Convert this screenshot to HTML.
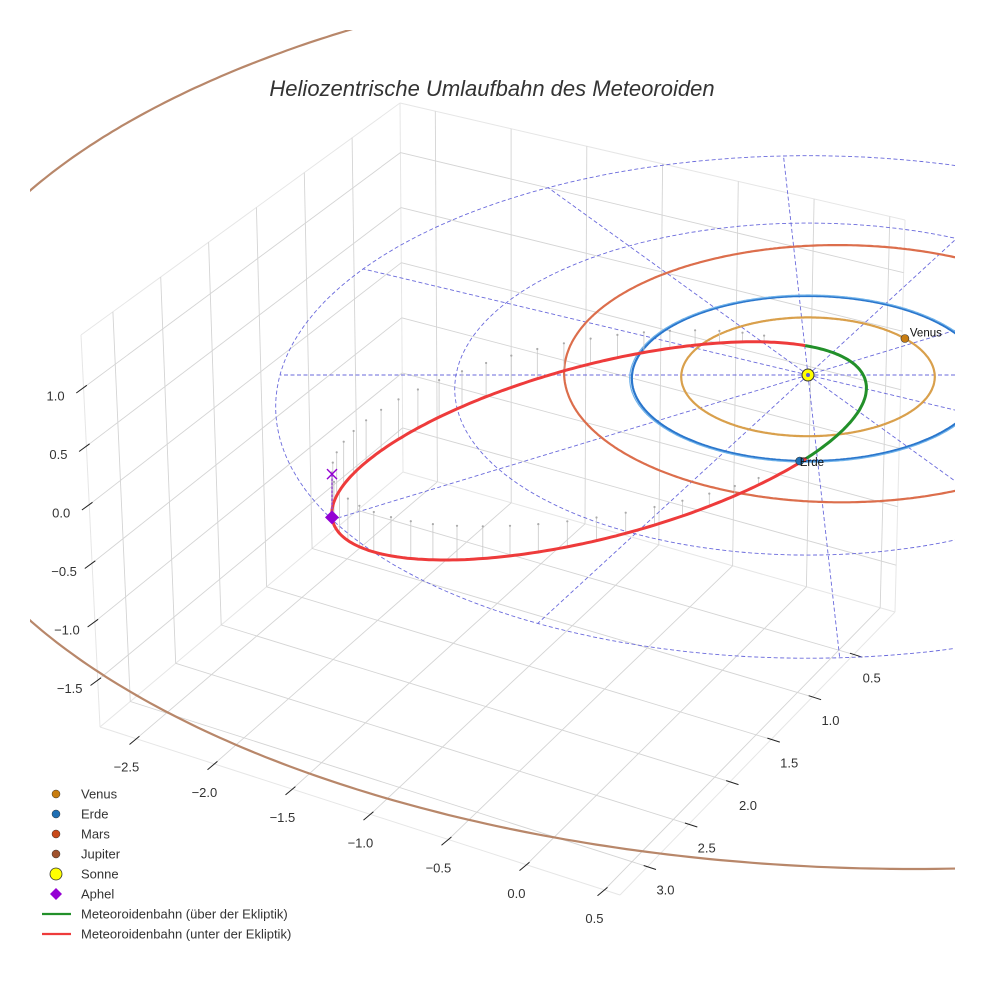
<!DOCTYPE html>
<html><head><meta charset="utf-8">
<style>
html,body{margin:0;padding:0;background:#fff;}
svg{display:block;font-family:"Liberation Sans",sans-serif;}
</style></head>
<body>
<svg id="chart" width="984" height="984" viewBox="0 0 984 984" xmlns="http://www.w3.org/2000/svg">
<defs><clipPath id="clip"><rect x="30" y="30" width="925" height="954"/></clipPath></defs>
<text x="492" y="96" text-anchor="middle" font-size="22" font-style="italic" fill="#333">Heliozentrische Umlaufbahn des Meteoroiden</text>
<g id="grid"></g>
<g id="ticks"></g>
<g id="eclip" clip-path="url(#clip)"></g>
<g id="orbits" clip-path="url(#clip)"></g>
<g id="meteor"></g>
<g id="marks"></g>
<g id="legend"></g>
</svg>
<script>
// ---- data ----
const xTicks = [-2.5, -2.0, -1.5, -1.0, -0.5, 0.0, 0.5];
const yTicks = [0.5, 1.0, 1.5, 2.0, 2.5, 3.0];
const zTicks = [-1.5, -1.0, -0.5, 0.0, 0.5, 1.0];
const planetNames = ["Venus", "Erde", "Mars", "Jupiter"];
const planetRadii = [0.72, 1.0, 1.57, 5.61];
const planetCenterU = [0, 0, 0.18, 0.48];
const planetCenterV = [0, 0, -0.12, -0.83];
const planetAngles = [38.8, -92.6, null, null];
const ringRadii = [2, 3];
const radialAngles = [0, 33, 63, 93, 123, 153, 180, 213, 243, 273, 303, 333];
const meteorCenter = [-1.10, 0.82];
const meteorAxisA = [1.42, -0.79];
const meteorAxisB = [0.167, 0.943];
const meteorAboveRange = [-34, 47];
const aphelDepth = 0.37;

// ---- projection (ecliptic plane) ----
const CX=808, CY=375, SU=176, SV=82.4, P=0.0424, SZ=117;
function proj(u,v,z){const D=1-P*v;return [CX+SU*u/D, CY+SV*v/D - SZ*(z||0)];}
// ---- box (screen) ----
const FB=[403,472],FR=[895,612],FL=[100,727],FF=[620,895],TB=[400,103],TR=[905,220],TL=[81,335];
const XMIN=-2.733,XR=3.333,YR=3.333,ZTOP=1.45,ZR=3.35;
function L(a,b,t){return [a[0]+(b[0]-a[0])*t,a[1]+(b[1]-a[1])*t];}
function floorP(s,t){return L(L(FB,FR,s),L(FL,FF,s),t);}
function backP(s,f){return L(L(TB,TR,s),L(FB,FR,s),f);}
function leftP(t,f){return L(L(TB,TL,t),L(FB,FL,t),f);}
const sx=x=>(x-XMIN)/XR, ty=y=>y/YR, fz=z=>(ZTOP-z)/ZR;
const NS="http://www.w3.org/2000/svg";
function el(tag,attrs,parent){const e=document.createElementNS(NS,tag);for(const k in attrs)e.setAttribute(k,attrs[k]);parent.appendChild(e);return e;}
function line(g,a,b,st,w){return el("line",{x1:a[0].toFixed(1),y1:a[1].toFixed(1),x2:b[0].toFixed(1),y2:b[1].toFixed(1),stroke:st,"stroke-width":w},g);}
function pathD(pts){return pts.map((p,i)=>(i?"L":"M")+p[0].toFixed(1)+","+p[1].toFixed(1)).join("");}

const grid=document.getElementById("grid");
const GC="#d4d4d4";
[[TB,TR],[TB,TL],[TB,FB],[FB,FR],[FB,FL],[TL,FL],[TR,FR],[FL,FF],[FR,FF]].forEach(e=>{const l=line(grid,e[0],e[1],"#e6e6e6",1);

});
xTicks.forEach(x=>{const s=sx(x);
 let l=line(grid,backP(s,0),backP(s,1),GC,0.9);
 
 
 l=line(grid,floorP(s,0),floorP(s,1),GC,0.9);
 
 });
yTicks.forEach(y=>{const t=ty(y);
 let l=line(grid,leftP(t,0),leftP(t,1),GC,0.9);
 
 
 l=line(grid,floorP(0,t),floorP(1,t),GC,0.9);
 
 });
zTicks.forEach(z=>{const f=fz(z);
 let l=line(grid,backP(0,f),backP(1,f),GC,0.9);
 
 
 l=line(grid,leftP(0,f),leftP(1,f),GC,0.9);
 
 });

const tk=document.getElementById("ticks");
function unit(a,b){const dx=b[0]-a[0],dy=b[1]-a[1],n=Math.hypot(dx,dy);return [dx/n,dy/n];}
function tickMark(p,d){return line(tk,[p[0]-d[0]*4,p[1]-d[1]*4],[p[0]+d[0]*9,p[1]+d[1]*9],"#222",1);}
function label(txt,x,y,name){const t=el("text",{x:x.toFixed(1),y:y.toFixed(1),"text-anchor":"middle","font-size":"13",fill:"#333"},tk);t.textContent=txt;
 
 }
const fmt=v=>(v<0?"\u2212":"")+Math.abs(v).toFixed(1);
xTicks.forEach(x=>{const s=sx(x);const p=floorP(s,1);const m=tickMark(p,unit(FB,FL));
 
 
 label(fmt(x),p[0]-10,p[1]+33,'x-tick-label');});
yTicks.forEach(y=>{const t=ty(y);const p=floorP(1,t);const m=tickMark(p,unit(FL,FF));
 
 
 label(fmt(y),p[0]+18,p[1]+28,'y-tick-label');});
zTicks.forEach(z=>{const f=fz(z);const p=leftP(1,f);const m=tickMark(p,unit(TB,TL));
 
 
 label(fmt(z),p[0]-28,p[1]+13,'z-tick-label');});

const ec=document.getElementById("eclip");
const DC="#5a5ad8";
ringRadii.forEach(r=>{const pts=[];for(let i=0;i<=360;i++){const a=i*Math.PI/180;pts.push(proj(r*Math.cos(a),-r*Math.sin(a)));}
 const p=el("path",{d:pathD(pts),fill:"none",stroke:DC,"stroke-width":0.9,"stroke-dasharray":"4 2.5",opacity:0.9},ec);
 
 });
radialAngles.forEach(ad=>{const a=ad*Math.PI/180,r=ringRadii[ringRadii.length-1];
 const l=line(ec,proj(0,0),proj(r*Math.cos(a),-r*Math.sin(a)),DC,0.9);l.setAttribute("stroke-dasharray","4 2.5");l.setAttribute("opacity","0.9");
 
 });

const orb=document.getElementById("orbits");
const orbitColors=["#d9a04c","#2a76cc","#dc6e4c","#b8876a"];
const markerColors=["#c87d10","#1f6fb4","#c84a1a","#a0522d"];
planetNames.forEach((n,k)=>{const pts=[];const R=planetRadii[k];
 for(let i=0;i<=720;i++){const a=i*Math.PI/360;pts.push(proj(planetCenterU[k]+R*Math.cos(a),planetCenterV[k]-R*Math.sin(a)));}
 const p=el("path",{d:pathD(pts),fill:"none",stroke:orbitColors[k],"stroke-width":2.2},orb);
 
 
 if(n==="Erde"){const pts2=[];const R2=R*1.012;for(let i=0;i<=720;i++){const a=i*Math.PI/360;pts2.push(proj(R2*Math.cos(a),-R2*Math.sin(a)));}
  const p2=el("path",{d:pathD(pts2),fill:"none",stroke:"#6fb2ea","stroke-width":1.2},orb);
  
  }
});

const met=document.getElementById("meteor");
function mPoint(td){const t=td*Math.PI/180;return [meteorCenter[0]+meteorAxisA[0]*Math.cos(t)+meteorAxisB[0]*Math.sin(t),meteorCenter[1]+meteorAxisA[1]*Math.cos(t)+meteorAxisB[1]*Math.sin(t)];}
function mDepth(td){const a0=meteorAboveRange[1],span=360-(meteorAboveRange[1]-meteorAboveRange[0]);let d=((td-a0)%360+360)%360;return aphelDepth*Math.sin(d/span*Math.PI)/Math.sin((180-a0)/span*Math.PI);}
for(let td=meteorAboveRange[1]+8;td<meteorAboveRange[0]+360-6;td+=6){const q=mPoint(td);const p=proj(q[0],q[1]);const h=SZ*mDepth(td);
 if(h<4)continue;
 const l=line(met,p,[p[0],p[1]-h],"#c8c8c8",0.8);
 
 
 const c=el("circle",{cx:p[0].toFixed(1),cy:(p[1]-h).toFixed(1),r:1.1,fill:"#aaa"},met);
 
 }
const below=[],above=[];
for(let td=meteorAboveRange[1];td<=meteorAboveRange[0]+360;td+=1){const q=mPoint(td);below.push(proj(q[0],q[1]));}
for(let td=meteorAboveRange[0];td<=meteorAboveRange[1];td+=1){const q=mPoint(td);above.push(proj(q[0],q[1]));}
let mp=el("path",{d:pathD(below),fill:"none",stroke:"#ee3b3b","stroke-width":3},met);


mp=el("path",{d:pathD(above),fill:"none",stroke:"#22902a","stroke-width":3},met);



const mk=document.getElementById("marks");
const aq=mPoint(180);const ap=proj(aq[0],aq[1]);const ax=[ap[0],ap[1]-SZ*aphelDepth];
let l=line(mk,ap,ax,"#9a4fd0",1.5);l.setAttribute("stroke-dasharray","3 1");


let e=el("path",{d:`M${ax[0]-5},${ax[1]-5}L${ax[0]+5},${ax[1]+5}M${ax[0]-5},${ax[1]+5}L${ax[0]+5},${ax[1]-5}`,stroke:"#9400d3","stroke-width":1.4,fill:"none"},mk);


e=el("path",{d:`M${ap[0]},${ap[1]-7}L${ap[0]+7},${ap[1]}L${ap[0]},${ap[1]+7}L${ap[0]-7},${ap[1]}Z`,fill:"#9400d3"},mk);


planetNames.forEach((n,k)=>{if(planetAngles[k]===null)return;const a=planetAngles[k]*Math.PI/180,R=planetRadii[k];
 const p=proj(planetCenterU[k]+R*Math.cos(a),planetCenterV[k]-R*Math.sin(a));
 const c=el("circle",{cx:p[0].toFixed(1),cy:p[1].toFixed(1),r:4,fill:markerColors[k],stroke:"#333","stroke-width":0.6},mk);
 
 
 const t=el("text",{x:(p[0]+(n==="Erde"?0:5)).toFixed(1),y:(p[1]+(n==="Erde"?5:-2)).toFixed(1),"font-size":"11.5",fill:"#111"},mk);t.textContent=n;
 
 });
const sp=proj(0,0);
e=el("circle",{cx:sp[0],cy:sp[1],r:6,fill:"#ffff00",stroke:"#333","stroke-width":1},mk);


e=el("circle",{cx:sp[0],cy:sp[1],r:2,fill:"#5a5ad8"},mk);



const lg=document.getElementById("legend");
const legendLabels=["Venus","Erde","Mars","Jupiter","Sonne","Aphel","Meteoroidenbahn (über der Ekliptik)","Meteoroidenbahn (unter der Ekliptik)"];
legendLabels.forEach((txt,i)=>{const y=794+i*20;const g=el("g",{},lg);
 
 
 if(i<4){el("circle",{cx:56,cy:y,r:4,fill:markerColors[i],stroke:"#333","stroke-width":0.5},g);}
 else if(i===4){el("circle",{cx:56,cy:y,r:6,fill:"#ffff00",stroke:"#333","stroke-width":0.8},g);}
 else if(i===5){el("path",{d:`M56,${y-6}L62,${y}L56,${y+6}L50,${y}Z`,fill:"#9400d3"},g);}
 else {el("line",{x1:42,y1:y,x2:71,y2:y,stroke:i===6?"#22902a":"#ee3b3b","stroke-width":2.2},g);}
 const t=el("text",{x:81,y:y+4.5,"font-size":"13",fill:"#333"},g);t.textContent=txt;});
</script>
</body></html>
